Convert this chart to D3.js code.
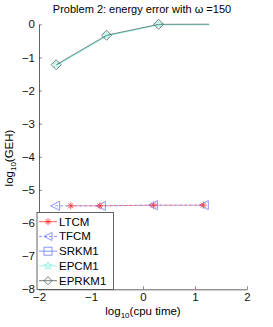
<!DOCTYPE html>
<html>
<head>
<meta charset="utf-8">
<script src="https://cdn.jsdelivr.net/npm/d3@7"></script>
<style>
  body { margin: 0; background: #fff; }
  text { font-family: "Liberation Sans", Arial, sans-serif; }
</style>
</head>
<body>
<div id="chart"></div>
<script>
// series data (log10 cpu time, log10 GEH)
const ltcmX = [-1.39, -0.83, 0.20, 1.16];
const ltcmY = [-5.48, -5.48, -5.46, -5.46];
const tfcmX = [-1.69, -0.81, 0.19, 1.17];
const tfcmY = [-5.48, -5.48, -5.46, -5.46];
const epcmX = [-1.67, -0.70, 0.30, 1.27];
const epcmY = [-1.22, -0.33, 0.0, 0.003];
const eprkX = [-1.67, -0.70, 0.30, 1.27];
const eprkY = [-1.22, -0.33, 0.0, 0.003];
const xTicks = [-2, -1, 0, 1, 2];
const yTicks = [0, -1, -2, -3, -4, -5, -6, -7, -8];
const legendNames = ["LTCM", "TFCM", "SRKM1", "EPCM1", "EPRKM1"];

let width = 273, height = 327;
let margin = {top: 24.3, right: 26, bottom: 37.7, left: 39};

let svg = d3.select("#chart").append("svg")
    .attr("width", width)
    .attr("height", height);

let x = d3.scaleLinear().domain([-2, 2]).range([margin.left, width - margin.right]);
let y = d3.scaleLinear().domain([-8, 0]).range([height - margin.bottom, margin.top]);

const axisColor = "#3c3c3c";

// axes, ticks inside
let xAxis = svg.append("g")
    .attr("transform", "translate(0," + y(-8) + ")")
    .call(d3.axisBottom(x).tickValues(xTicks).tickSizeInner(-3).tickSizeOuter(0).tickPadding(4)
        .tickFormat(d => d < 0 ? "\u2212" + Math.abs(d) : d));
let yAxis = svg.append("g")
    .attr("transform", "translate(" + x(-2) + ",0)")
    .call(d3.axisLeft(y).tickValues(yTicks).tickSizeInner(-3).tickSizeOuter(0).tickPadding(4)
        .tickFormat(d => d < 0 ? "\u2212" + Math.abs(d) : d));
[xAxis, yAxis].forEach(function (a) {
    a.select(".domain").attr("stroke", axisColor).attr("stroke-width", 0.8);
    a.selectAll(".tick line").attr("stroke", axisColor).attr("stroke-width", 0.6);
    a.selectAll("text").style("font-size", "11.5px").attr("fill", "#111");
});

// title
svg.append("text")
    .attr("x", 142).attr("y", 13)
    .style("text-anchor", "middle")
    .style("font-size", "11px")
    .text("Problem 2: energy error with \u03c9 =150");

// y label
let yl = svg.append("text")
    .attr("transform", "translate(13," + 158 + ") rotate(-90)")
    .style("text-anchor", "middle")
    .style("font-size", "11.5px");
yl.append("tspan").text("log");
yl.append("tspan").attr("dy", 3).style("font-size", "8px").text("10");
yl.append("tspan").attr("dy", -3).text("(GEH)");

// x label
let xl = svg.append("text")
    .attr("x", 143).attr("y", 315)
    .style("text-anchor", "middle")
    .style("font-size", "11.5px");
xl.append("tspan").text("log");
xl.append("tspan").attr("dy", 3).style("font-size", "8px").text("10");
xl.append("tspan").attr("dy", -3).text("(cpu time)");

function zip(xs, ys) { return xs.map((v, i) => [v, ys[i]]); }
let line = d3.line().x(d => x(d[0])).y(d => y(d[1]));

function star(g, cx, cy, r, color) {
    for (let k = 0; k < 4; k++) {
        let a = k * Math.PI / 4;
        g.append("line")
            .attr("x1", cx - r * Math.cos(a)).attr("y1", cy - r * Math.sin(a))
            .attr("x2", cx + r * Math.cos(a)).attr("y2", cy + r * Math.sin(a))
            .attr("stroke", color).attr("stroke-width", 0.8);
    }
}
function triLeft(g, cx, cy, r, color) {
    g.append("path")
        .attr("d", "M" + (cx - r) + "," + cy + "L" + (cx + r) + "," + (cy - r) + "L" + (cx + r) + "," + (cy + r) + "Z")
        .attr("fill", "none").attr("stroke", color).attr("stroke-width", 0.8);
}
function diamond(g, cx, cy, r, color) {
    g.append("path")
        .attr("d", "M" + cx + "," + (cy - r) + "L" + (cx + r) + "," + cy + "L" + cx + "," + (cy + r) + "L" + (cx - r) + "," + cy + "Z")
        .attr("fill", "none").attr("stroke", color).attr("stroke-width", 0.8);
}
function square(g, cx, cy, r, color) {
    g.append("rect").attr("x", cx - r).attr("y", cy - r).attr("width", 2 * r).attr("height", 2 * r)
        .attr("fill", "none").attr("stroke", color).attr("stroke-width", 0.8);
}
function star5(g, cx, cy, r, color) {
    let pts = d3.range(10).map(function (i) {
        let a = -Math.PI / 2 + i * Math.PI / 5;
        let rr = i % 2 ? r * 0.45 : r;
        return [cx + rr * Math.cos(a), cy + rr * Math.sin(a)];
    });
    g.append("path").attr("d", "M" + pts.join("L") + "Z")
        .attr("fill", "none").attr("stroke", color).attr("stroke-width", 0.8);
}

const colors = {ltcm: "#ff3030", tfcm: "#6f7cff", srkm: "#6f7cff", epcm: "#80f0dc", eprk: "#505a58"};

let plot = svg.append("g");
let inside = d => d[1] <= 0;

// EPCM1 (cyan) under EPRKM1
let epcm = zip(epcmX, epcmY);
plot.append("path").attr("d", line(epcm)).attr("fill", "none")
    .attr("stroke", colors.epcm).attr("stroke-width", 1.1)
    .attr("transform", "translate(0.5,0.5)");
epcm.filter(inside).forEach(d => star5(plot, x(d[0]), y(d[1]), 3.5, colors.epcm));

let eprk = zip(eprkX, eprkY);
plot.append("path").attr("d", line(eprk)).attr("fill", "none")
    .attr("stroke", colors.eprk).attr("stroke-width", 0.7);
eprk.filter(inside).forEach(d => diamond(plot, x(d[0]), y(d[1]), 5, colors.eprk));

// TFCM dashed blue
let tfcm = zip(tfcmX, tfcmY);
plot.append("path").attr("d", line(tfcm)).attr("fill", "none")
    .attr("stroke", colors.tfcm).attr("stroke-width", 0.8).attr("stroke-dasharray", "3,2");
tfcm.forEach(d => triLeft(plot, x(d[0]), y(d[1]), 4.5, colors.tfcm));

// LTCM red dashed
let ltcm = zip(ltcmX, ltcmY);
plot.append("path").attr("d", line(ltcm)).attr("fill", "none")
    .attr("stroke", colors.ltcm).attr("stroke-width", 0.8).attr("stroke-dasharray", "3,2")
    .attr("stroke-dashoffset", 2.5).attr("opacity", 0.8);
ltcm.forEach(d => star(plot, x(d[0]), y(d[1]), 3.5, colors.ltcm));

// legend
let lg = svg.append("g");
lg.append("rect")
    .attr("x", 37).attr("y", 212.5).attr("width", 76.5).attr("height", 77)
    .attr("fill", "#fff").attr("stroke", axisColor).attr("stroke-width", 0.8);
const legendColors = [colors.ltcm, colors.tfcm, colors.srkm, colors.epcm, colors.eprk];
const legendMarks = [star, triLeft, square, star5, diamond];
const legendDash = ["none", "3,2", "none", "none", "none"];
legendNames.forEach(function (name, i) {
    let cy = 221.7 + i * 14.75;
    lg.append("line").attr("x1", 39).attr("x2", 57).attr("y1", cy).attr("y2", cy)
        .attr("stroke", legendColors[i]).attr("stroke-width", 0.8)
        .attr("stroke-dasharray", legendDash[i]);
    legendMarks[i](lg, 48, cy, i === 0 ? 3.5 : 4, legendColors[i]);
    lg.append("text").attr("x", 59).attr("y", cy + 4)
        .style("font-size", "11.5px").text(name);
});
</script>
</body>
</html>
